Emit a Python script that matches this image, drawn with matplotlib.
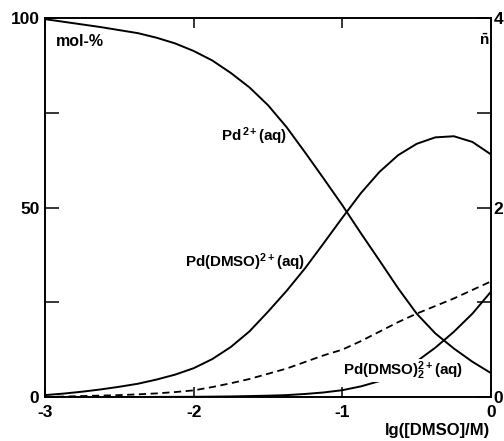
import matplotlib
matplotlib.use("Agg")
import matplotlib.pyplot as plt
from matplotlib.ticker import FixedLocator, NullFormatter

plt.rcParams['font.family'] = ['Liberation Sans', 'DejaVu Sans']
plt.rcParams['mathtext.fontset'] = 'custom'
plt.rcParams['mathtext.rm'] = 'Liberation Sans:bold'
plt.rcParams['mathtext.it'] = 'Liberation Sans:bold:italic'
plt.rcParams['mathtext.bf'] = 'Liberation Sans:bold'

# lg([DMSO]/M)
lg_dmso = [-3.0, -2.875, -2.75, -2.625, -2.5, -2.375, -2.25, -2.125, -2.0,
           -1.875, -1.75, -1.625, -1.5, -1.375, -1.25, -1.125, -1.0,
           -0.875, -0.75, -0.625, -0.5, -0.375, -0.25, -0.125, 0.0]
# species distribution, mol-%
pd_aq = [99.7, 99.0, 98.3, 97.6, 96.8, 96.0, 94.8, 93.3, 91.3,
         88.8, 85.5, 81.7, 77.0, 71.2, 64.5, 57.6, 50.6,
         43.2, 36.0, 28.7, 22.0, 16.8, 12.8, 9.3, 6.3]
pd_dmso = [0.5, 0.9, 1.4, 2.0, 2.7, 3.5, 4.6, 5.9, 7.6,
           10.0, 13.2, 17.3, 22.5, 28.0, 34.0, 40.6, 47.3,
           53.8, 59.4, 63.8, 66.8, 68.5, 68.8, 67.3, 64.0]
pd_dmso2 = [0.0, 0.0, 0.0, 0.0, 0.01, 0.02, 0.03, 0.04, 0.05,
            0.1, 0.15, 0.25, 0.35, 0.5, 0.8, 1.2, 1.8,
            2.8, 4.2, 6.4, 9.4, 13.0, 17.2, 22.0, 27.8]
# average ligand number
n_bar = [0.0, 0.005, 0.01, 0.015, 0.02, 0.028, 0.038, 0.052, 0.07,
         0.105, 0.145, 0.19, 0.245, 0.30, 0.37, 0.44, 0.50,
         0.59, 0.69, 0.79, 0.88, 0.96, 1.04, 1.13, 1.22]

x_ticks = [-3, -2, -1, 0]
x_ticklabels = ['-3', '-2', '-1', '0']
pct_ticks = [0, 50, 100]
pct_minor = [25, 75]
n_ticks = [0, 2, 4]
n_minor = [1, 3]

fig = plt.figure(figsize=(5.04, 4.41), dpi=100)
ax = fig.add_axes([45 / 504, 1 - 397 / 441, 446 / 504, 379 / 441])
ax2 = ax.twinx()

lw = 1.4
ax.plot(lg_dmso, pd_aq, color='black', lw=lw, zorder=2)
ax.plot(lg_dmso, pd_dmso, color='black', lw=lw, zorder=2)
ax.plot(lg_dmso, pd_dmso2, color='black', lw=lw, zorder=2)
ax2.plot(lg_dmso, n_bar, color='black', lw=1.3, linestyle=(0, (4, 2.5)))

ax.set_xlim(-3, 0)
ax.set_ylim(0, 100)
ax2.set_ylim(0, 4)

ax.xaxis.set_major_locator(FixedLocator(x_ticks))
ax.set_xticklabels(x_ticklabels)
ax.yaxis.set_major_locator(FixedLocator(pct_ticks))
ax.yaxis.set_minor_locator(FixedLocator(pct_minor))
ax.yaxis.set_minor_formatter(NullFormatter())
ax2.yaxis.set_major_locator(FixedLocator(n_ticks))
ax2.yaxis.set_minor_locator(FixedLocator(n_minor))
ax2.yaxis.set_minor_formatter(NullFormatter())

ax.tick_params(axis='x', which='both', direction='in', top=True, length=7,
               width=1.1, pad=6, labelsize=12.5)
ax.tick_params(axis='y', which='both', direction='in', length=10, width=1.1,
               pad=4, labelsize=12.5)
ax2.tick_params(axis='y', which='both', direction='in', length=10, width=1.1,
                pad=2, labelsize=12.5)
for lab in ax.get_xticklabels() + ax.get_yticklabels() + ax2.get_yticklabels():
    lab.set_fontweight('bold')

for a in (ax, ax2):
    for s in a.spines.values():
        s.set_linewidth(1.2)

label_kw = dict(fontsize=10.9, fontweight='bold')
ax.text(-2.93, 93.9, 'mol-%', fontsize=11.5, fontweight='bold', ha='left', va='center')
ax.text(-0.047, 94.2, r'$\bar{\mathrm{n}}$', fontsize=11, ha='center', va='center')
ax.text(-1.372, 68.9, r'Pd$^{\,2+}$(aq)', ha='right', va='center', **label_kw)
ax.text(-1.251, 35.6, r'Pd(DMSO)$^{2+}$(aq)', ha='right', va='center', **label_kw)
ax.text(-0.996, 5.8, r'Pd(DMSO)$_2^{2+}$(aq)', ha='left', va='baseline',
        zorder=5, bbox=dict(facecolor='white', edgecolor='none', pad=0.0), **label_kw)

fig.text(490 / 504, 1 - 430 / 441, 'lg([DMSO]/M)', fontsize=12, fontweight='bold',
         ha='right', va='center')

fig.savefig('out.png', dpi=100)
